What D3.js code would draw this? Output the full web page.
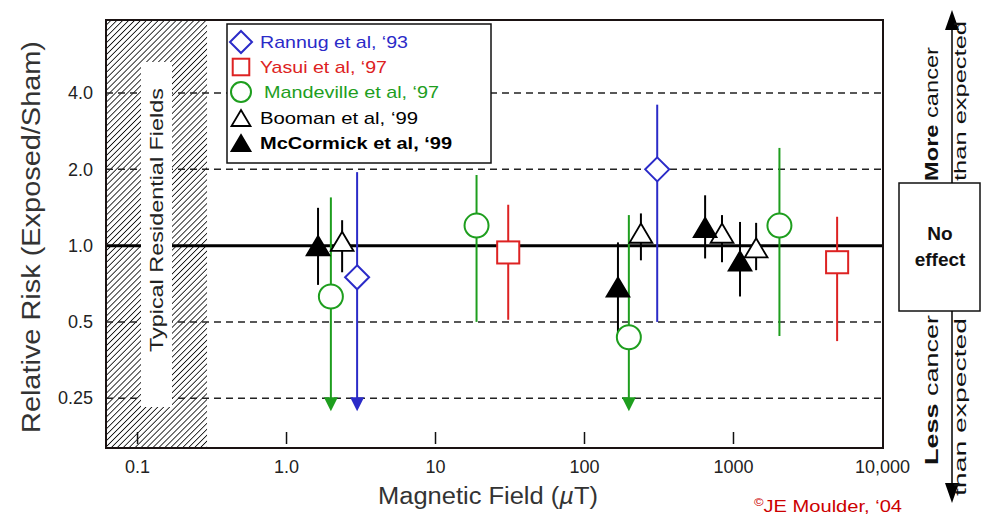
<!doctype html>
<html>
<head>
<meta charset="utf-8">
<script src="https://d3js.org/d3.v7.min.js"></script>
<style>
  body { margin: 0; background: #fff; }
  text { font-family: "Liberation Sans", Arial, Helvetica, sans-serif; }
</style>
</head>
<body>
<svg width="982" height="517"></svg>
<script>
// each point: [field (uT), relative risk, lower CI, upper CI]
const rannug     = [[3.0, 0.75, 0.25, 1.95], [310, 2.0, 0.5, 3.6]];
const yasui      = [[31, 0.94, 0.51, 1.45], [5000, 0.86, 0.42, 1.30]];
const mandeville = [[2.0, 0.63, 0.25, 1.55], [19, 1.2, 0.5, 1.9], [200, 0.435, 0.25, 1.32], [2050, 1.2, 0.44, 2.43]];
const booman     = [[2.38, 1.04, 0.785, 1.26], [241, 1.12, 0.875, 1.34], [844, 1.12, 0.86, 1.32], [1430, 0.98, 0.8, 1.23]];
const mccormick  = [[1.64, 1.0, 0.70, 1.41], [169, 0.686, 0.45, 1.03], [650, 1.18, 0.89, 1.58], [1115, 0.87, 0.63, 1.24]];
// points whose lower limit runs off the chart (drawn as arrow at 0.25)
const offScale = [[3.0, "#2b2bc8"], [2.0, "#1e9e1e"], [200, "#1e9e1e"]];

const xTicks = [0.1, 1, 10, 100, 1000, 10000];
const xLabels = ["0.1", "1.0", "10", "100", "1000", "10,000"];
const yTicks = [0.25, 0.5, 1, 2, 4];
const yLabels = ["0.25", "0.5", "1.0", "2.0", "4.0"];
const residential = [0.0619, 0.295];

const series = [
  {name: "Rannug et al, \u201893",     color: "#2b2bc8", shape: "diamond", pts: rannug,     len: 148},
  {name: "Yasui et al, \u201897",      color: "#dd2222", shape: "square",  pts: yasui,      len: 127},
  {name: "Mandeville et al, \u201897", color: "#1e9e1e", shape: "circle",  pts: mandeville, len: 175},
  {name: "Booman et al, \u201899",     color: "#000",    shape: "triOpen", pts: booman,     len: 158},
  {name: "McCormick et al, \u201899",  color: "#000",    shape: "triFill", pts: mccormick,  len: 192, bold: true}
];

const svg = d3.select("svg");
const L = 106, R = 883, T = 20, B = 448;
const x = d3.scaleLog().domain([0.0619, 10160]).range([L, R]);
const y = d3.scaleLog().base(2).domain([0.159, 7.77]).range([B, T]);

// hatch pattern
const defs = svg.append("defs");
const pat = defs.append("pattern").attr("id", "hatch").attr("patternUnits", "userSpaceOnUse")
  .attr("width", 4.2).attr("height", 4.2).attr("patternTransform", "rotate(45)");
pat.append("line").attr("x1", 0).attr("y1", 0).attr("x2", 0).attr("y2", 4.2)
  .attr("stroke", "#111").attr("stroke-width", 1.7);

svg.append("rect").attr("x", L).attr("y", T)
  .attr("width", x(residential[1]) - L).attr("height", B - T).attr("fill", "url(#hatch)");

// gridlines
svg.append("g").selectAll("line").data(yTicks.filter(d => d !== 1)).join("line")
  .attr("x1", L).attr("x2", R).attr("y1", d => y(d)).attr("y2", d => y(d))
  .attr("stroke", "#222").attr("stroke-width", 1.5).attr("stroke-dasharray", "7,5");
svg.append("line").attr("x1", L).attr("x2", R).attr("y1", y(1)).attr("y2", y(1))
  .attr("stroke", "#000").attr("stroke-width", 3);

// label box in residential band
svg.append("rect").attr("x", 141).attr("y", 62).attr("width", 31).attr("height", 345).attr("fill", "#fff");
svg.append("text").attr("transform", "translate(163,220) rotate(-90)")
  .attr("text-anchor", "middle").attr("font-size", 19).attr("fill", "#222")
  .attr("textLength", 264).attr("lengthAdjust", "spacingAndGlyphs")
  .text("Typical Residential Fields");

// x axis (ticks inside)
const xAxis = svg.append("g").attr("transform", `translate(0,${B - 4})`)
  .call(d3.axisBottom(x).tickValues(xTicks).tickSize(-12).tickPadding(16)
    .tickFormat((d, i) => xLabels[i]));
xAxis.select(".domain").remove();
xAxis.selectAll(".tick line").attr("stroke", "#111").attr("stroke-width", 1.5)
  .filter(d => d === 10000).remove();
xAxis.selectAll(".tick text").attr("font-size", 18).attr("fill", "#222")
  .attr("font-family", "Liberation Sans, Arial, sans-serif");

// y axis
const yAxis = svg.append("g").attr("transform", `translate(${L},0)`)
  .call(d3.axisLeft(y).tickValues(yTicks).tickSize(0).tickPadding(13)
    .tickFormat((d, i) => yLabels[i]));
yAxis.select(".domain").remove();
yAxis.selectAll(".tick text").attr("font-size", 18).attr("fill", "#222")
  .attr("font-family", "Liberation Sans, Arial, sans-serif");

// frame
svg.append("rect").attr("x", L).attr("y", T).attr("width", R - L).attr("height", B - T)
  .attr("fill", "none").attr("stroke", "#1a1212").attr("stroke-width", 2);

function marker(g, shape, cx, cy, s, color) {
  if (shape === "diamond") {
    g.append("path").attr("d", `M${cx},${cy - s}L${cx + s},${cy}L${cx},${cy + s}L${cx - s},${cy}Z`)
      .attr("fill", "#fff").attr("stroke", color).attr("stroke-width", 2);
  } else if (shape === "square") {
    g.append("rect").attr("x", cx - s * 0.92).attr("y", cy - s * 0.92).attr("width", s * 1.84).attr("height", s * 1.84)
      .attr("fill", "#fff").attr("stroke", color).attr("stroke-width", 2);
  } else if (shape === "circle") {
    g.append("circle").attr("cx", cx).attr("cy", cy).attr("r", s)
      .attr("fill", "#fff").attr("stroke", color).attr("stroke-width", 2);
  } else {
    const w = s * 0.95, h = s * 0.8;
    g.append("path").attr("d", `M${cx},${cy - h}L${cx + w},${cy + h}L${cx - w},${cy + h}Z`)
      .attr("fill", shape === "triFill" ? "#000" : "#fff")
      .attr("stroke", "#000").attr("stroke-width", 1.8).attr("stroke-linejoin", "miter");
  }
}

// data
const dg = svg.append("g");
series.forEach(s => {
  s.pts.forEach(p => {
    dg.append("line").attr("x1", x(p[0])).attr("x2", x(p[0]))
      .attr("y1", y(p[2])).attr("y2", y(p[3]))
      .attr("stroke", s.color).attr("stroke-width", 2);
  });
});
offScale.forEach(a => {
  const cx = x(a[0]), cy = y(0.25);
  dg.append("path").attr("d", `M${cx - 7},${cy - 1}L${cx + 7},${cy - 1}L${cx},${cy + 13}Z`).attr("fill", a[1]);
});
series.forEach(s => {
  s.pts.forEach(p => marker(dg, s.shape, x(p[0]), y(p[1]), 12, s.color));
});

// legend
const lg = svg.append("g");
lg.append("rect").attr("x", 227).attr("y", 24).attr("width", 264).attr("height", 139)
  .attr("fill", "#fff").attr("stroke", "#111").attr("stroke-width", 1.5);
series.forEach((s, i) => {
  const ry = [42, 67, 92, 118, 143][i];
  marker(lg, s.shape, 241, ry, s.shape === "square" ? 9 : s.shape === "circle" ? 10 : s.shape === "diamond" ? 11 : 10, s.color);
  lg.append("text").attr("x", i === 2 ? 264 : 260).attr("y", ry + 6)
    .attr("font-size", 17).attr("fill", s.color).attr("font-weight", s.bold ? "bold" : "normal")
    .attr("textLength", s.len).attr("lengthAdjust", "spacingAndGlyphs")
    .text(s.name);
});

// axis titles
svg.append("text").attr("transform", "translate(40,237) rotate(-90)")
  .attr("text-anchor", "middle").attr("font-size", 25).attr("fill", "#333")
  .attr("textLength", 392).attr("lengthAdjust", "spacingAndGlyphs")
  .text("Relative Risk (Exposed/Sham)");
const xt = svg.append("text").attr("x", 488).attr("y", 504).attr("text-anchor", "middle")
  .attr("font-size", 23).attr("fill", "#333")
  .attr("textLength", 220).attr("lengthAdjust", "spacingAndGlyphs");
xt.append("tspan").text("Magnetic Field (");
xt.append("tspan").attr("font-style", "italic").text("\u00b5");
xt.append("tspan").text("T)");

// credit
const cr = svg.append("text").attr("x", 754).attr("y", 512).attr("fill", "#cc0000").attr("font-size", 17)
  .attr("textLength", 148).attr("lengthAdjust", "spacingAndGlyphs");
cr.append("tspan").attr("font-size", 11).attr("dy", -6).text("\u00a9");
cr.append("tspan").attr("dy", 6).text("JE Moulder, \u201804");

// right-hand annotation
const ag = svg.append("g");
ag.append("rect").attr("x", 899).attr("y", 183).attr("width", 81).attr("height", 128)
  .attr("fill", "#fff").attr("stroke", "#111").attr("stroke-width", 1.5);
ag.append("text").attr("x", 940).attr("y", 240).attr("text-anchor", "middle")
  .attr("font-size", 19).attr("font-weight", "bold").attr("fill", "#111").text("No");
ag.append("text").attr("x", 940).attr("y", 266).attr("text-anchor", "middle")
  .attr("font-size", 19).attr("font-weight", "bold").attr("fill", "#111").text("effect");
ag.append("line").attr("x1", 952).attr("x2", 952).attr("y1", 183).attr("y2", 26).attr("stroke", "#000").attr("stroke-width", 1.5);
ag.append("path").attr("d", "M952,10L959,30L945,30Z").attr("fill", "#000");
ag.append("line").attr("x1", 952).attr("x2", 952).attr("y1", 311).attr("y2", 486).attr("stroke", "#000").attr("stroke-width", 1.5);
ag.append("path").attr("d", "M952,503L959,483L945,483Z").attr("fill", "#000");

function rotLabel(tx, ty, anchor, boldPart, rest, len, fs) {
  const t = ag.append("text").attr("transform", `translate(${tx},${ty}) rotate(-90)`)
    .attr("text-anchor", anchor).attr("font-size", fs).attr("fill", "#111");
  if (len) t.attr("textLength", len).attr("lengthAdjust", "spacingAndGlyphs");
  if (boldPart) t.append("tspan").attr("font-weight", "bold").text(boldPart);
  t.append("tspan").text(rest);
}
rotLabel(938, 181, "start", "More", " cancer", 134, 18);
rotLabel(966, 181, "start", null, "than expected", 160, 16);
rotLabel(938, 315, "end", "Less", " cancer", 150, 18);
rotLabel(966, 318, "end", null, "than expected", 178, 16);
</script>
</body>
</html>
